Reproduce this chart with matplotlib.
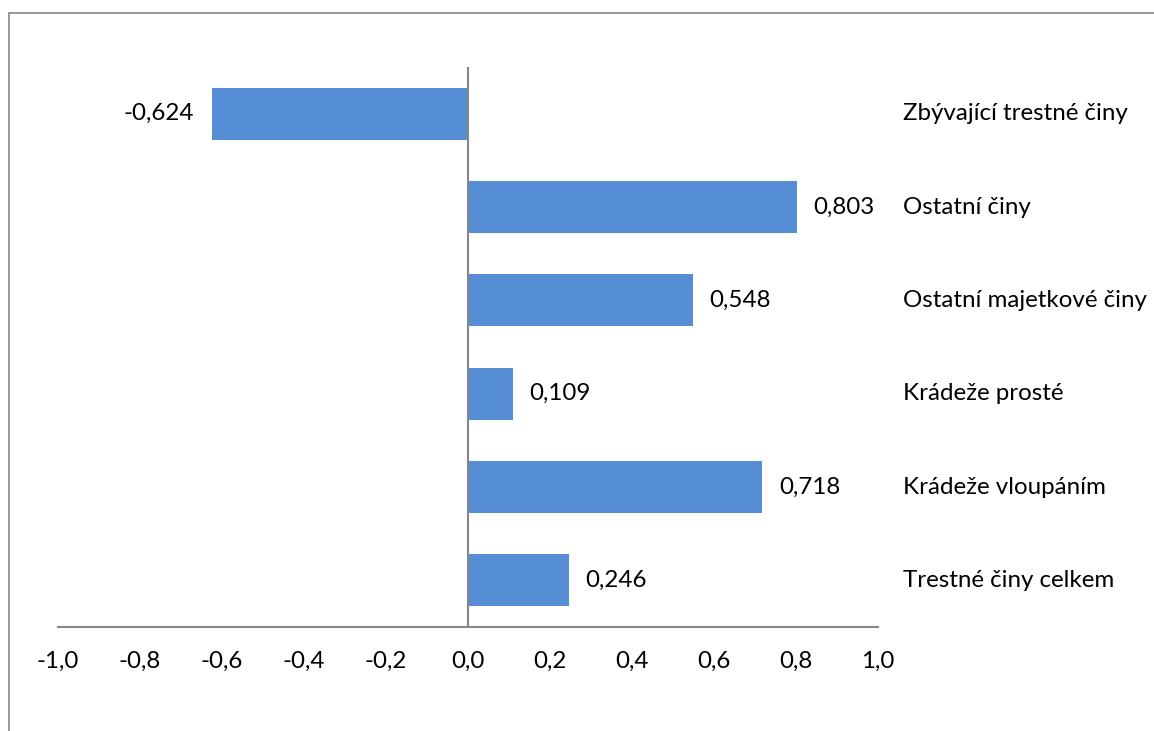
import matplotlib.pyplot as plt
from matplotlib.patches import Rectangle
from matplotlib.transforms import blended_transform_factory

categories = ['Trestné činy celkem', 'Krádeže vloupáním', 'Krádeže prosté',
              'Ostatní majetkové činy', 'Ostatní činy', 'Zbývající trestné činy']
values = [0.246, 0.718, 0.109, 0.548, 0.803, -0.624]
xticks = [-1.0, -0.8, -0.6, -0.4, -0.2, 0.0, 0.2, 0.4, 0.6, 0.8, 1.0]

plt.rcParams['font.family'] = ['Lato', 'DejaVu Sans']
bar_color = '#558ed5'
axis_gray = '#868686'
fs = 17.4

fig = plt.figure(figsize=(11.54, 7.31), dpi=100)
# outer chart frame (only left and top visible)
fig.patches.append(Rectangle((9 / 1154, -0.05), 1.2, (731 - 13) / 731 + 0.05,
                             transform=fig.transFigure, fill=False,
                             edgecolor=axis_gray, linewidth=1.2))

ax = fig.add_axes([58 / 1154, 104 / 731, 820 / 1154, 560 / 731])
y = list(range(len(categories)))
ax.barh(y, values, height=0.56, color=bar_color)

ax.set_xlim(-1, 1)
ax.set_ylim(-0.5, len(categories) - 0.5)
ax.set_xticks(xticks)
ax.set_xticklabels([f'{t:.1f}'.replace('.', ',') for t in xticks], fontsize=fs)
ax.tick_params(axis='x', length=0, pad=17)
ax.set_yticks([])

for s in ['top', 'right', 'left']:
    ax.spines[s].set_visible(False)
ax.spines['bottom'].set_color(axis_gray)
ax.spines['bottom'].set_linewidth(1.5)
ax.axvline(0, color=axis_gray, linewidth=1.5)

for yi, v in zip(y, values):
    txt = f'{v:.3f}'.replace('.', ',')
    if v >= 0:
        ax.text(v + 0.04, yi, txt, ha='left', va='center', fontsize=fs)
    else:
        ax.text(v - 0.044, yi, txt, ha='right', va='center', fontsize=fs)

trans = blended_transform_factory(ax.transAxes, ax.transData)
for yi, c in zip(y, categories):
    ax.text((903 - 58) / 820, yi, c, transform=trans, ha='left', va='center',
            fontsize=fs, clip_on=False)

plt.savefig('out.png', dpi=100)
